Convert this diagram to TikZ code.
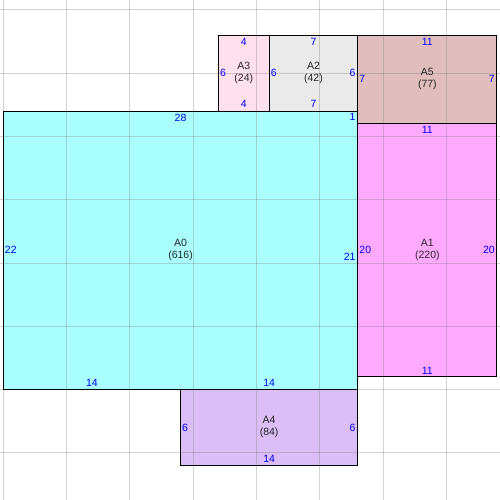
\documentclass[tikz,border=0pt]{standalone}
\usepackage{fontspec}
\setmainfont{Liberation Sans}
\definecolor{roomcyan}{RGB}{170,255,255}
\definecolor{roommagenta}{RGB}{255,170,255}
\definecolor{roomrose}{RGB}{225,190,190}
\definecolor{roomgray}{RGB}{234,234,234}
\definecolor{roompink}{RGB}{255,224,236}
\definecolor{roomlilac}{RGB}{218,190,245}
\definecolor{sideblue}{RGB}{0,0,255}

\begin{document}
\begin{tikzpicture}[x=12.66pt,y=12.66pt,yscale=-1,xscale=1,
  gridline/.style={gray,opacity=0.35,line width=0.8pt},
  roomedge/.style={draw=black,line width=1pt},
  roomname/.style={inner sep=0pt,align=center,font=\fontsize{10.5}{12}\selectfont,text=black!85},
  sidelen/.style={inner sep=0pt,font=\fontsize{10.5}{12}\selectfont,text=sideblue}]
%set picture size: 500 x 500
\useasboundingbox (-0.26,-8.77) rectangle (39.23,30.73);

%Room fills
\fill [roomcyan]    (0,0) rectangle (28,22);
\fill [roommagenta] (28,1) rectangle (39,21);
\fill [roomrose]    (28,-6) rectangle (39,1);
\fill [roomgray]    (21,-6) rectangle (28,0);
\fill [roompink]    (17,-6) rectangle (21,0);
\fill [roomlilac]   (14,22) rectangle (28,28);

%Grid
\foreach \gx in {0,5,...,35}
  \draw [gridline] (\gx,-8.77) -- (\gx,30.73);
\foreach \gy in {-8,-3,...,27}
  \draw [gridline] (-0.26,\gy) -- (39.23,\gy);

%Room outlines
\draw [roomedge] (0,0) rectangle (28,22);
\draw [roomedge] (28,1) rectangle (39,21);
\draw [roomedge] (28,-6) rectangle (39,1);
\draw [roomedge] (21,-6) rectangle (28,0);
\draw [roomedge] (17,-6) rectangle (21,0);
\draw [roomedge] (14,22) rectangle (28,28);

% Room names
\node [roomname] (nameA0) at (14,11)    {A0\\(616)};
\node [roomname] (nameA1) at (33.5,11)  {A1\\(220)};
\node [roomname] (nameA2) at (24.5,-3)  {A2\\(42)};
\node [roomname] (nameA3) at (19,-3)    {A3\\(24)};
\node [roomname] (nameA4) at (21,25)    {A4\\(84)};
\node [roomname] (nameA5) at (33.5,-2.5) {A5\\(77)};

% Side lengths A0
\node [sidelen] (topA0) at (14,0.53) {28};
\node [sidelen,anchor=east] (rtopA0) at ([xshift=-2pt]28,0.5) {1};
\node [sidelen,anchor=west] (leftA0) at ([xshift=1.5pt]0,11) {22};
\node [sidelen,anchor=east] (rightA0) at ([xshift=-2pt]28,11.5) {21};
\node [sidelen] (botA0a) at (7,21.5) {14};
\node [sidelen] (botA0b) at (21,21.5) {14};
% Side lengths A1
\node [sidelen] (topA1) at (33.5,1.5) {11};
\node [sidelen] (botA1) at (33.5,20.5) {11};
\node [sidelen,anchor=west] (leftA1) at ([xshift=1.5pt]28,11) {20};
\node [sidelen,anchor=east] (rightA1) at ([xshift=-2pt]39,11) {20};
% Side lengths A5
\node [sidelen] (topA5) at (33.5,-5.47) {11};
\node [sidelen,anchor=west] (leftA5) at ([xshift=1.5pt]28,-2.5) {7};
\node [sidelen,anchor=east] (rightA5) at ([xshift=-2pt]39,-2.5) {7};
% Side lengths A2
\node [sidelen] (topA2) at (24.5,-5.47) {7};
\node [sidelen] (botA2) at (24.5,-0.53) {7};
\node [sidelen,anchor=west] (leftA2) at ([xshift=1.5pt]21,-3) {6};
\node [sidelen,anchor=east] (rightA2) at ([xshift=-2pt]28,-3) {6};
% Side lengths A3
\node [sidelen] (topA3) at (19,-5.47) {4};
\node [sidelen] (botA3) at (19,-0.53) {4};
\node [sidelen,anchor=west] (leftA3) at ([xshift=1.5pt]17,-3) {6};
% Side lengths A4
\node [sidelen] (botA4) at (21,27.5) {14};
\node [sidelen,anchor=west] (leftA4) at ([xshift=1.5pt]14,25) {6};
\node [sidelen,anchor=east] (rightA4) at ([xshift=-2pt]28,25) {6};

\end{tikzpicture}
\end{document}
